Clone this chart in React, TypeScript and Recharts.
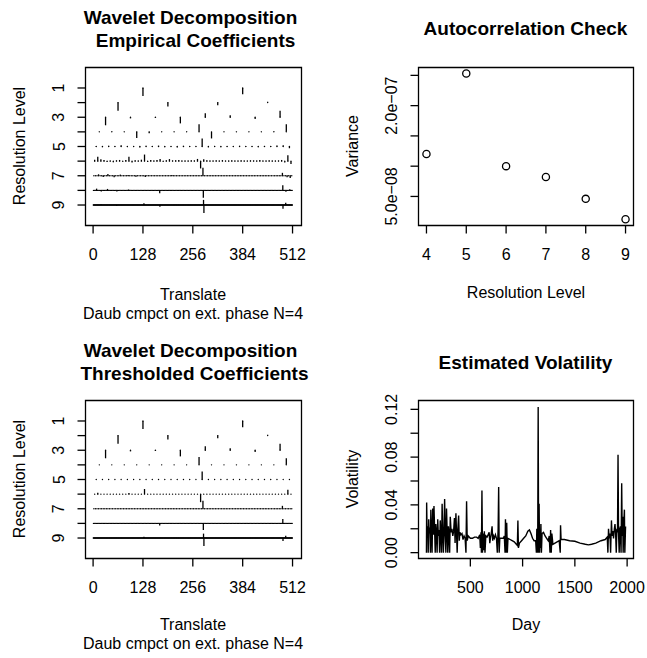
import { ComposedChart, Scatter, ErrorBar, Line, XAxis, YAxis, ReferenceArea } from 'recharts'

const W = 647
const H = 658
const FONT = '"Liberation Sans", Arial, Helvetica, sans-serif'
const LW = 1.3

// wavelet coefficients, level j holds 2^j values (sign: + is drawn upward)
const empLevel1 = [-0.55, -0.42]
const empLevel2 = [-0.55, -0.27, -0.18, 0.06]
const empLevel3 = [-0.55, -0.08, -0.05, -0.42, 0.28, 0.14, -0.12, 0.44]
const empLevel4 = [0.03, 0.04, 0.03, -0.42, -0.1, 0.03, 0.02, 0.03, 0.52, -0.45, 0.03, 0.02, 0.03, 0.02, 0.04, 0.52]
const empLevel5 = [
	0.03, -0.05, 0.05, -0.04, 0.08, -0.04, 0.03, -0.06, 0.05, -0.04, 0.06, -0.05, 0.04, -0.06, 0.05, -0.03,
	0.04, 0.55, -0.06, 0.04, -0.05, 0.03, -0.04, 0.05, -0.04, 0.03, -0.05, 0.04, -0.03, 0.06, 0.08, -0.12,
]
const empLevel6 = [
	0.1, 0.3, 0.12, 0.08, -0.06, 0.05, -0.08, 0.06, 0.08, -0.05, 0.07, 0.3, -0.1, 0.06, 0.05, 0.1,
	0.45, -0.06, 0.07, 0.05, 0.08, 0.15, -0.05, 0.06, 0.14, 0.05, 0.06, 0.08, 0.05, 0.04, 0.05, 0.06,
	0.05, 0.15, -0.5, 0.12, 0.06, 0.05, 0.04, 0.06, 0.05, 0.07, 0.04, 0.05, 0.06, 0.04, 0.05, 0.06,
	0.05, 0.04, 0.06, 0.05, 0.04, 0.07, 0.05, 0.04, 0.06, 0.05, 0.04, 0.05, 0.08, -0.1, 0.4, -0.2,
]
// fine levels: only the coefficients that stand out, the rest read as ~0
const empLevel7: [number, number][] = [[3, 0.1], [6, -0.08], [9, 0.12], [13, -0.1], [17, 0.08], [22, 0.06], [27, -0.06], [33, -0.08], [50, 0.06], [70, 0.55], [121, 0.2], [124, -0.1], [126, -0.15]]
const empLevel8: [number, number][] = [[4, 0.12], [10, -0.08], [18, 0.1], [30, -0.08], [45, 0.06], [85, -0.2], [141, -0.5], [243, 0.35], [247, -0.1], [252, 0.08]]
const empLevel9: [number, number][] = [[20, 0.06], [60, -0.05], [130, 0.12], [171, -0.12], [283, 0.35], [284, -0.55], [487, -0.25], [494, 0.15]]

// thresholded: coarse levels kept, the rest mostly zeroed
const thrLevel4: [number, number][] = [[8, 0.53], [15, 0.45]]
const thrLevel5: [number, number][] = [[17, 0.55]]
const thrLevel6: [number, number][] = [[1, 0.1], [11, 0.08], [16, 0.35], [34, -0.55], [62, 0.3]]
const thrLevel7: [number, number][] = [[70, 0.55], [121, 0.2]]
const thrLevel8: [number, number][] = [[85, -0.15], [141, -0.45], [243, 0.3]]
const thrLevel9: [number, number][] = [[130, 0.08], [283, 0.3], [284, -0.55], [487, -0.2], [494, 0.15]]

const translateTicks = [0, 128, 256, 384, 512]
const levelTicks = [1, 2, 3, 4, 5, 6, 7, 8, 9]

const varLevels = [4, 5, 6, 7, 8, 9]
const varValues = [1.2e-7, 2.53e-7, 1.0e-7, 8.2e-8, 4.6e-8, 1.24e-8]
const varTicks = [5e-8, 1e-7, 1.5e-7, 2e-7, 2.5e-7]
const varLabelled = [5e-8, 2e-7]

// [day, volatility]
const volatility: [number, number][] = [
	[80, 0.0], [82, 0.042], [86, 0.018], [92, 0.022], [97, 0.0], [102, 0.028], [107, 0.016], [113, 0.021], [118, 0.0],
	[122, 0.036], [128, 0.018], [134, 0.0], [140, 0.037], [146, 0.015], [152, 0.039], [158, 0.02], [164, 0.0],
	[170, 0.024], [176, 0.017], [182, 0.0], [188, 0.028], [194, 0.014], [200, 0.019], [206, 0.0], [212, 0.027],
	[218, 0.015], [224, 0.0], [230, 0.041], [236, 0.016], [242, 0.0], [248, 0.02], [254, 0.045], [260, 0.014],
	[266, 0.0], [272, 0.037], [278, 0.018], [284, 0.0], [290, 0.022], [296, 0.016], [302, 0.0], [308, 0.03],
	[316, 0.017], [324, 0.02], [332, 0.014], [340, 0.018], [348, 0.029], [354, 0.008], [362, 0.033], [368, 0.016],
	[374, 0.0], [380, 0.019], [388, 0.031], [394, 0.01], [400, 0.017], [410, 0.015], [420, 0.016], [430, 0.011],
	[440, 0.014], [450, 0.012], [458, 0.0], [464, 0.043], [470, 0.01], [480, 0.014], [500, 0.012], [520, 0.012],
	[540, 0.013], [560, 0.013], [575, 0.012], [590, 0.015], [596, 0.004], [602, 0.017], [606, 0.0], [611, 0.052],
	[616, 0.0], [622, 0.016], [628, 0.002], [634, 0.018], [640, 0.0], [648, 0.014], [660, 0.013], [670, 0.015],
	[680, 0.017], [686, 0.008], [692, 0.012], [700, 0.016], [708, 0.022], [714, 0.01], [722, 0.014], [730, 0.012],
	[740, 0.015], [750, 0.012], [758, 0.0], [766, 0.02], [771, 0.055], [776, 0.0], [782, 0.012], [800, 0.012],
	[815, 0.012], [825, 0.014], [832, 0.0], [836, 0.028], [842, 0.0], [848, 0.025], [854, 0.0], [860, 0.012],
	[880, 0.011], [900, 0.01], [920, 0.009], [940, 0.007], [950, 0.006], [955, 0.027], [960, 0.004], [970, 0.008],
	[990, 0.01], [1010, 0.012], [1030, 0.014], [1050, 0.018], [1065, 0.019], [1080, 0.016], [1095, 0.012],
	[1110, 0.01], [1125, 0.01], [1132, 0.0], [1136, 0.02], [1140, 0.0], [1145, 0.019], [1149, 0.122], [1153, 0.0],
	[1158, 0.041], [1162, 0.0], [1166, 0.018], [1170, 0.004], [1175, 0.024], [1180, 0.0], [1186, 0.016],
	[1200, 0.017], [1215, 0.014], [1230, 0.012], [1245, 0.01], [1255, 0.014], [1262, 0.0], [1268, 0.019],
	[1274, 0.0], [1280, 0.016], [1290, 0.007], [1310, 0.008], [1330, 0.009], [1350, 0.01], [1360, 0.0],
	[1363, 0.023], [1368, 0.011], [1400, 0.011], [1450, 0.01], [1500, 0.0095], [1550, 0.008], [1600, 0.007],
	[1630, 0.0065], [1660, 0.007], [1700, 0.008], [1750, 0.01], [1790, 0.011], [1810, 0.013], [1816, 0.0],
	[1822, 0.02], [1828, 0.012], [1836, 0.016], [1842, 0.0], [1850, 0.027], [1856, 0.014], [1864, 0.018],
	[1870, 0.012], [1878, 0.02], [1884, 0.024], [1890, 0.016], [1896, 0.0], [1902, 0.02], [1908, 0.017],
	[1913, 0.082], [1918, 0.016], [1924, 0.0], [1930, 0.02], [1936, 0.022], [1942, 0.0], [1948, 0.058],
	[1953, 0.014], [1958, 0.03], [1962, 0.0], [1968, 0.024], [1974, 0.036], [1978, 0.0], [1985, 0.022],
]
const dayTicks = [500, 1000, 1500, 2000]
const volTicks = [0, 0.02, 0.04, 0.06, 0.08, 0.1, 0.12]
const volLabelled = [0, 0.04, 0.08, 0.12]

type Box = { left: number; right: number; top: number; bottom: number }
const box1: Box = { left: 85.5, right: 301.5, top: 67.5, bottom: 225.5 }
const box2: Box = { left: 418.5, right: 633.5, top: 67.5, bottom: 225.5 }
const box3: Box = { left: 85.5, right: 301.5, top: 400.5, bottom: 558.5 }
const box4: Box = { left: 418.5, right: 633.5, top: 400.5, bottom: 558.5 }
// axes get 1px each (a 0px axis is not drawn), taken out of the margins
const marginOf = (b: Box) => ({ left: b.left - 1, right: W - b.right, top: b.top, bottom: H - b.bottom - 1 })

const sparse = (n: number, spikes: [number, number][]) =>
	Array.from({ length: n }, (_, k) => spikes.find((s) => s[0] === k)?.[1] ?? 0)

const toPoints = (levels: number[][]) =>
	levels.flatMap((coefs, i) =>
		coefs.map((c, k) => ({
			x: ((k + 0.5) * 512) / coefs.length,
			level: i + 1,
			err: c >= 0 ? [c, 0] : [0, -c],
		}))
	)

const empiricalPoints = toPoints([
	empLevel1, empLevel2, empLevel3, empLevel4, empLevel5, empLevel6,
	sparse(128, empLevel7), sparse(256, empLevel8), sparse(512, empLevel9),
])
const thresholdedPoints = toPoints([
	empLevel1, empLevel2, empLevel3,
	sparse(16, thrLevel4), sparse(32, thrLevel5), sparse(64, thrLevel6),
	sparse(128, thrLevel7), sparse(256, thrLevel8), sparse(512, thrLevel9),
])
const varianceData = varLevels.map((level, i) => ({ level, variance: varValues[i] }))
const volData = volatility.map(([day, vol]) => ({ day, vol }))

const sci = (v: number) => {
	const [m, e] = v.toExponential(1).split('e')
	return `${m}e${e[0] === '-' ? '\u2212' : '+'}${e.slice(1).padStart(2, '0')}`
}

const bottomTick = (fmt: (v: number) => string) => (props: any) => (
	<text x={props.x} y={props.y + 26} textAnchor="middle" fontSize={16} fill="#000">
		{fmt(props.payload.value)}
	</text>
)
const leftTick = (fmt: (v: number) => string | null) => (props: any) => {
	const label = fmt(props.payload.value)
	if (!label) return <g />
	const x = props.x - 13
	return (
		<text x={x} y={props.y} transform={`rotate(-90 ${x} ${props.y})`} textAnchor="middle" fontSize={16} fill="#000">
			{label}
		</text>
	)
}

const axisCommon = { tickSize: 8, tickMargin: 0, axisLine: false, tickLine: { stroke: '#000', strokeWidth: LW }, interval: 0 as const, allowDataOverflow: true }

const dot = (p: any) => <circle cx={p.cx} cy={p.cy} r={0.7} fill="#000" />
const ring = (p: any) => <circle cx={p.cx} cy={p.cy} r={3.6} fill="none" stroke="#000" strokeWidth={LW} />

const Layer = ({ children }: { children: any }) => <div style={{ position: 'absolute', left: 0, top: 0 }}>{children}</div>

const translateDomain = [-19.5, 535]
const levelDomain = [-0.4, 10.4]

const WaveletPanel = ({ box, points }: { box: Box; points: any[] }) => (
	<Layer>
		<ComposedChart width={W} height={H} margin={marginOf(box)}>
			<XAxis type="number" dataKey="x" domain={translateDomain} ticks={translateTicks} height={1} tick={bottomTick(String)} {...axisCommon} />
			<YAxis type="number" dataKey="level" domain={levelDomain} reversed ticks={levelTicks} width={1} tick={leftTick((v) => (v % 2 ? String(v) : null))} {...axisCommon} />
			<ReferenceArea x1={translateDomain[0]} x2={translateDomain[1]} y1={levelDomain[0]} y2={levelDomain[1]} fill="none" stroke="#000" strokeWidth={LW} fillOpacity={0} ifOverflow="visible" />
			<Scatter data={points} dataKey="level" shape={dot} isAnimationActive={false}>
				<ErrorBar dataKey="err" direction="y" width={0} stroke="#000" strokeWidth={LW} isAnimationActive={false} />
			</Scatter>
		</ComposedChart>
	</Layer>
)

const t = { fontSize: 16, textAnchor: 'middle' as const, fill: '#000' }
const tb = { fontSize: 19, textAnchor: 'middle' as const, fill: '#000', fontWeight: 'bold' as const }

export default function App() {
	const varDomain = [2e-9, 2.63e-7]
	const dayDomain = [4, 2061]
	const volDomain = [-0.0049, 0.1274]
	return (
		<div style={{ position: 'absolute', left: 0, top: 0, width: W, height: H, background: '#fff', fontFamily: FONT }}>
			<WaveletPanel box={box1} points={empiricalPoints} />
			<WaveletPanel box={box3} points={thresholdedPoints} />
			<Layer>
				<ComposedChart width={W} height={H} margin={marginOf(box2)}>
					<XAxis type="number" dataKey="level" domain={[3.8, 9.2]} ticks={varLevels} height={1} tick={bottomTick(String)} {...axisCommon} />
					<YAxis type="number" dataKey="variance" domain={varDomain} ticks={varTicks} width={1} tick={leftTick((v) => (varLabelled.some((l) => Math.abs(l - v) < 1e-12) ? sci(v) : null))} {...axisCommon} />
					<ReferenceArea x1={3.8} x2={9.2} y1={varDomain[0]} y2={varDomain[1]} fill="none" fillOpacity={0} stroke="#000" strokeWidth={LW} ifOverflow="visible" />
					<Scatter data={varianceData} dataKey="variance" shape={ring} isAnimationActive={false} />
				</ComposedChart>
			</Layer>
			<Layer>
				<ComposedChart width={W} height={H} margin={marginOf(box4)} data={volData}>
					<XAxis type="number" dataKey="day" domain={dayDomain} ticks={dayTicks} height={1} tick={bottomTick(String)} {...axisCommon} />
					<YAxis type="number" domain={volDomain} ticks={volTicks} width={1} tick={leftTick((v) => (volLabelled.some((l) => Math.abs(l - v) < 1e-9) ? v.toFixed(2) : null))} {...axisCommon} />
					<ReferenceArea x1={dayDomain[0]} x2={dayDomain[1]} y1={volDomain[0]} y2={volDomain[1]} fill="none" fillOpacity={0} stroke="#000" strokeWidth={LW} ifOverflow="visible" />
					<Line dataKey="vol" type="linear" dot={false} stroke="#000" strokeWidth={1.4} isAnimationActive={false} />
				</ComposedChart>
			</Layer>
			<svg width={W} height={H} style={{ position: 'absolute', left: 0, top: 0 }} fontFamily={FONT}>
				<text x={190.5} y={24} {...tb}>Wavelet Decomposition</text>
				<text x={195.5} y={46.5} {...tb}>Empirical Coefficients</text>
				<text x={525.5} y={35} {...tb}>Autocorrelation Check</text>
				<text x={190.5} y={357} {...tb}>Wavelet Decomposition</text>
				<text x={194.5} y={379.5} {...tb}>Thresholded Coefficients</text>
				<text x={525.5} y={368.5} {...tb}>Estimated Volatility</text>
				<text x={193} y={299.5} {...t}>Translate</text>
				<text x={193} y={318.5} {...t}>Daub cmpct on ext. phase N=4</text>
				<text x={193} y={630} {...t}>Translate</text>
				<text x={193} y={648.5} {...t}>Daub cmpct on ext. phase N=4</text>
				<text x={526} y={297.5} {...t}>Resolution Level</text>
				<text x={526} y={630} {...t}>Day</text>
				<text x={25} y={146} transform="rotate(-90 25 146)" {...t}>Resolution Level</text>
				<text x={25} y={479} transform="rotate(-90 25 479)" {...t}>Resolution Level</text>
				<text x={358} y={146} transform="rotate(-90 358 146)" {...t}>Variance</text>
				<text x={358} y={479} transform="rotate(-90 358 479)" {...t}>Volatility</text>
			</svg>
		</div>
	)
}
